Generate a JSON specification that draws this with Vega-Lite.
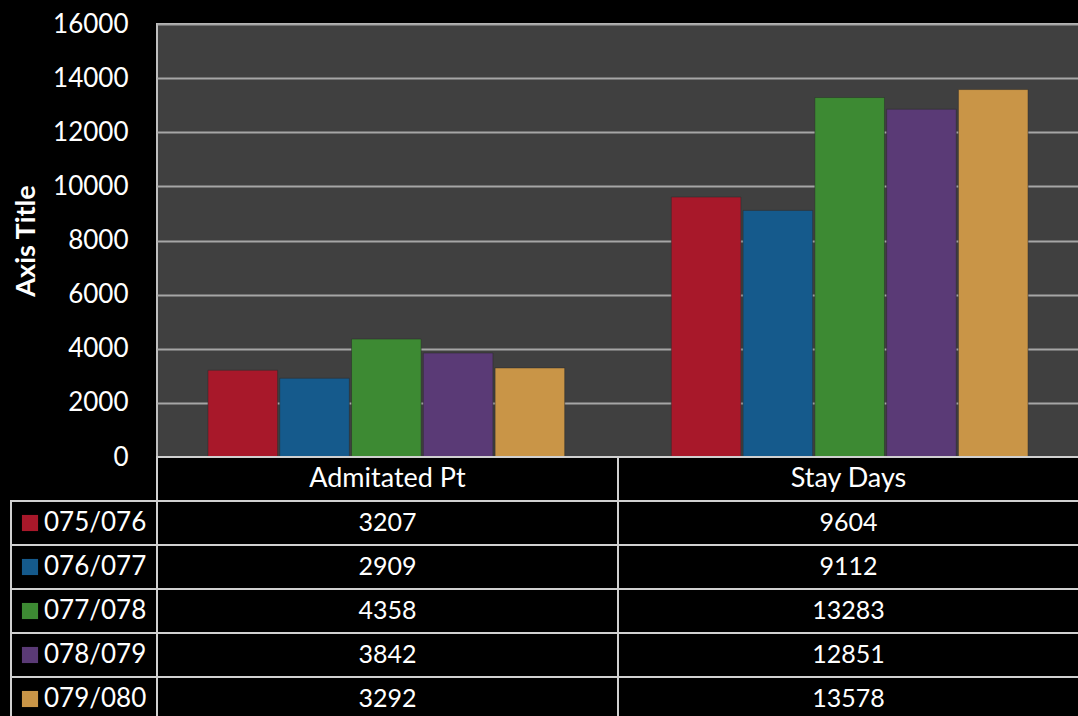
{
  "$schema": "https://vega.github.io/schema/vega-lite/v6.json",
  "background": "#000000",
  "padding": {"left": 10, "top": 10, "right": 0, "bottom": 0},
  "datasets": {
    "vals": [
      {"series": "075/076", "category": "Admitated Pt", "value": 3207},
      {"series": "076/077", "category": "Admitated Pt", "value": 2909},
      {"series": "077/078", "category": "Admitated Pt", "value": 4358},
      {"series": "078/079", "category": "Admitated Pt", "value": 3842},
      {"series": "079/080", "category": "Admitated Pt", "value": 3292},
      {"series": "075/076", "category": "Stay Days", "value": 9604},
      {"series": "076/077", "category": "Stay Days", "value": 9112},
      {"series": "077/078", "category": "Stay Days", "value": 13283},
      {"series": "078/079", "category": "Stay Days", "value": 12851},
      {"series": "079/080", "category": "Stay Days", "value": 13578}
    ]
  },
  "bounds": "flush",
  "spacing": 0,
  "columns": 2,
  "concat": [
    {
      "width": 146,
      "height": 433,
      "data": {"values": []},
      "mark": {"type": "point", "opacity": 0},
      "encoding": {},
      "view": {"stroke": null, "fill": null}
    },
    {
      "width": 922,
      "height": 433,
      "data": {"name": "vals"},
      "view": {"fill": "#404040", "stroke": "#bfbfbf", "strokeWidth": 2},
      "mark": {"type": "bar", "stroke": "#2a2a2a", "strokeWidth": 0.5},
      "encoding": {
        "x": {
          "field": "category",
          "type": "nominal",
          "scale": {"domain": ["Admitated Pt", "Stay Days"], "paddingInner": 0.23, "paddingOuter": 0.11},
          "axis": null
        },
        "xOffset": {
          "field": "series",
          "type": "nominal",
          "scale": {"paddingInner": 0.03}
        },
        "y": {
          "field": "value",
          "type": "quantitative",
          "scale": {"domain": [0, 16000], "nice": false},
          "axis": {
            "title": "Axis Title",
            "values": [0, 2000, 4000, 6000, 8000, 10000, 12000, 14000, 16000],
            "format": "d",
            "grid": true,
            "gridColor": "#a6a6a6",
            "gridWidth": 2,
            "domain": false,
            "ticks": false,
            "labelPadding": 29,
            "labelColor": "#ffffff",
            "labelFont": "Lato",
            "labelFontSize": 26,
            "titleColor": "#ffffff",
            "titleFont": "Lato",
            "titleFontSize": 27,
            "titleFontWeight": "bold",
            "titlePadding": 12
          }
        },
        "color": {
          "field": "series",
          "type": "nominal",
          "scale": {
            "domain": ["075/076", "076/077", "077/078", "078/079", "079/080"],
            "range": ["#a8182a", "#155a8c", "#3d8a33", "#5a3a76", "#c99547"]
          },
          "legend": null
        }
      }
    },
    {
      "width": 146,
      "height": 264,
      "data": {"name": "vals"},
      "transform": [{"filter": "datum.category === 'Admitated Pt'"}],
      "view": {"stroke": null, "fill": null},
      "encoding": {
        "y": {
          "field": "series",
          "type": "nominal",
          "scale": {"domain": ["header", "075/076", "076/077", "077/078", "078/079", "079/080"], "paddingInner": 0, "paddingOuter": 0},
          "axis": null
        }
      },
      "layer": [
        {
          "mark": {"type": "rect", "fill": "#000000", "stroke": "#d0d0d0", "strokeWidth": 2}
        },
        {
          "mark": {"type": "square", "size": 260, "filled": true, "opacity": 1},
          "encoding": {
            "x": {"datum": 19, "type": "quantitative", "scale": {"domain": [0, 146]}, "axis": null},
            "color": {
              "field": "series",
              "type": "nominal",
              "scale": {
                "domain": ["075/076", "076/077", "077/078", "078/079", "079/080"],
                "range": ["#a8182a", "#155a8c", "#3d8a33", "#5a3a76", "#c99547"]
              },
              "legend": null
            }
          }
        },
        {
          "mark": {"type": "text", "align": "left", "baseline": "middle", "color": "#ffffff", "font": "Lato", "fontSize": 26, "fontWeight": "normal"},
          "encoding": {
            "x": {"datum": 33, "type": "quantitative", "scale": {"domain": [0, 146]}, "axis": null},
            "text": {"field": "series"}
          }
        }
      ]
    },
    {
      "width": 922,
      "height": 264,
      "data": {"name": "vals"},
      "view": {"stroke": null, "fill": null},
      "encoding": {
        "x": {
          "field": "category",
          "type": "nominal",
          "scale": {"domain": ["Admitated Pt", "Stay Days"], "paddingInner": 0, "paddingOuter": 0},
          "axis": null
        }
      },
      "layer": [
        {
          "mark": {"type": "rect", "fill": "#000000", "stroke": "#d0d0d0", "strokeWidth": 2},
          "encoding": {
            "y": {
              "field": "series",
              "type": "nominal",
              "scale": {"domain": ["header", "075/076", "076/077", "077/078", "078/079", "079/080"], "paddingInner": 0, "paddingOuter": 0},
              "axis": null
            }
          }
        },
        {
          "transform": [{"filter": "datum.series === '075/076'"}],
          "mark": {"type": "rect", "fill": "#000000", "stroke": "#d0d0d0", "strokeWidth": 2},
          "encoding": {
            "y": {"datum": "header", "type": "nominal"}
          }
        },
        {
          "mark": {"type": "text", "baseline": "middle", "color": "#ffffff", "font": "Lato", "fontSize": 25, "fontWeight": "normal"},
          "encoding": {
            "y": {"field": "series", "type": "nominal"},
            "text": {"field": "value", "type": "quantitative", "format": "d"}
          }
        },
        {
          "transform": [{"filter": "datum.series === '075/076'"}],
          "mark": {"type": "text", "baseline": "middle", "color": "#ffffff", "font": "Lato", "fontSize": 27, "fontWeight": "normal"},
          "encoding": {
            "y": {"datum": "header", "type": "nominal"},
            "text": {"field": "category"}
          }
        }
      ]
    }
  ],
  "config": {
    "view": {"stroke": null},
    "concat": {"spacing": 0}
  }
}
